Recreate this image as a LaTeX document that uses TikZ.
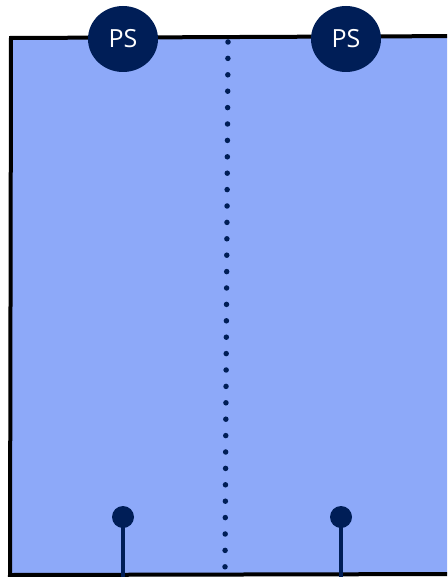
\documentclass[tikz,border=0pt]{standalone}
\usepackage{fontspec}
\setmainfont{Open Sans}
\usetikzlibrary{shapes.geometric}
\definecolor{panel}{HTML}{8DA9F9}
\definecolor{navy}{HTML}{001E57}
\begin{document}
\begin{tikzpicture}[x=1pt,y=-1pt,
  ps/.style={ellipse,fill=navy,minimum width=70pt,minimum height=66pt,inner sep=0pt,text=white,font=\fontsize{25}{30}\selectfont},
  ball/.style={circle,fill=navy,minimum size=22pt,inner sep=0pt},
  stem/.style={draw=navy,line width=4pt},
  dots/.style={draw=navy,line width=5.5pt,line cap=round,dash pattern=on 0pt off 16.4pt}]
\useasboundingbox (0,0) rectangle (447,577);
\begin{scope}
\clip (0,0) rectangle (447,577);
\draw[line width=4pt,fill=panel] (11,38) -- (470,36) -- (470,574) -- (10,575) -- cycle;
\coordinate (dtop) at (228,42);
\coordinate (dbot) at (225,567);
\draw[dots] (dtop) -- (dbot);
\node[ball] (b1) at (123,517) {};
\node[ball] (b2) at (341,517) {};
\coordinate (e1) at (123,580);
\coordinate (e2) at (341,580);
\draw[stem] (b1.center) -- (e1);
\draw[stem] (b2.center) -- (e2);
\end{scope}
\node[ps] (ps1) at (123,39) {PS};
\node[ps] (ps2) at (346,39) {PS};
\end{tikzpicture}
\end{document}
